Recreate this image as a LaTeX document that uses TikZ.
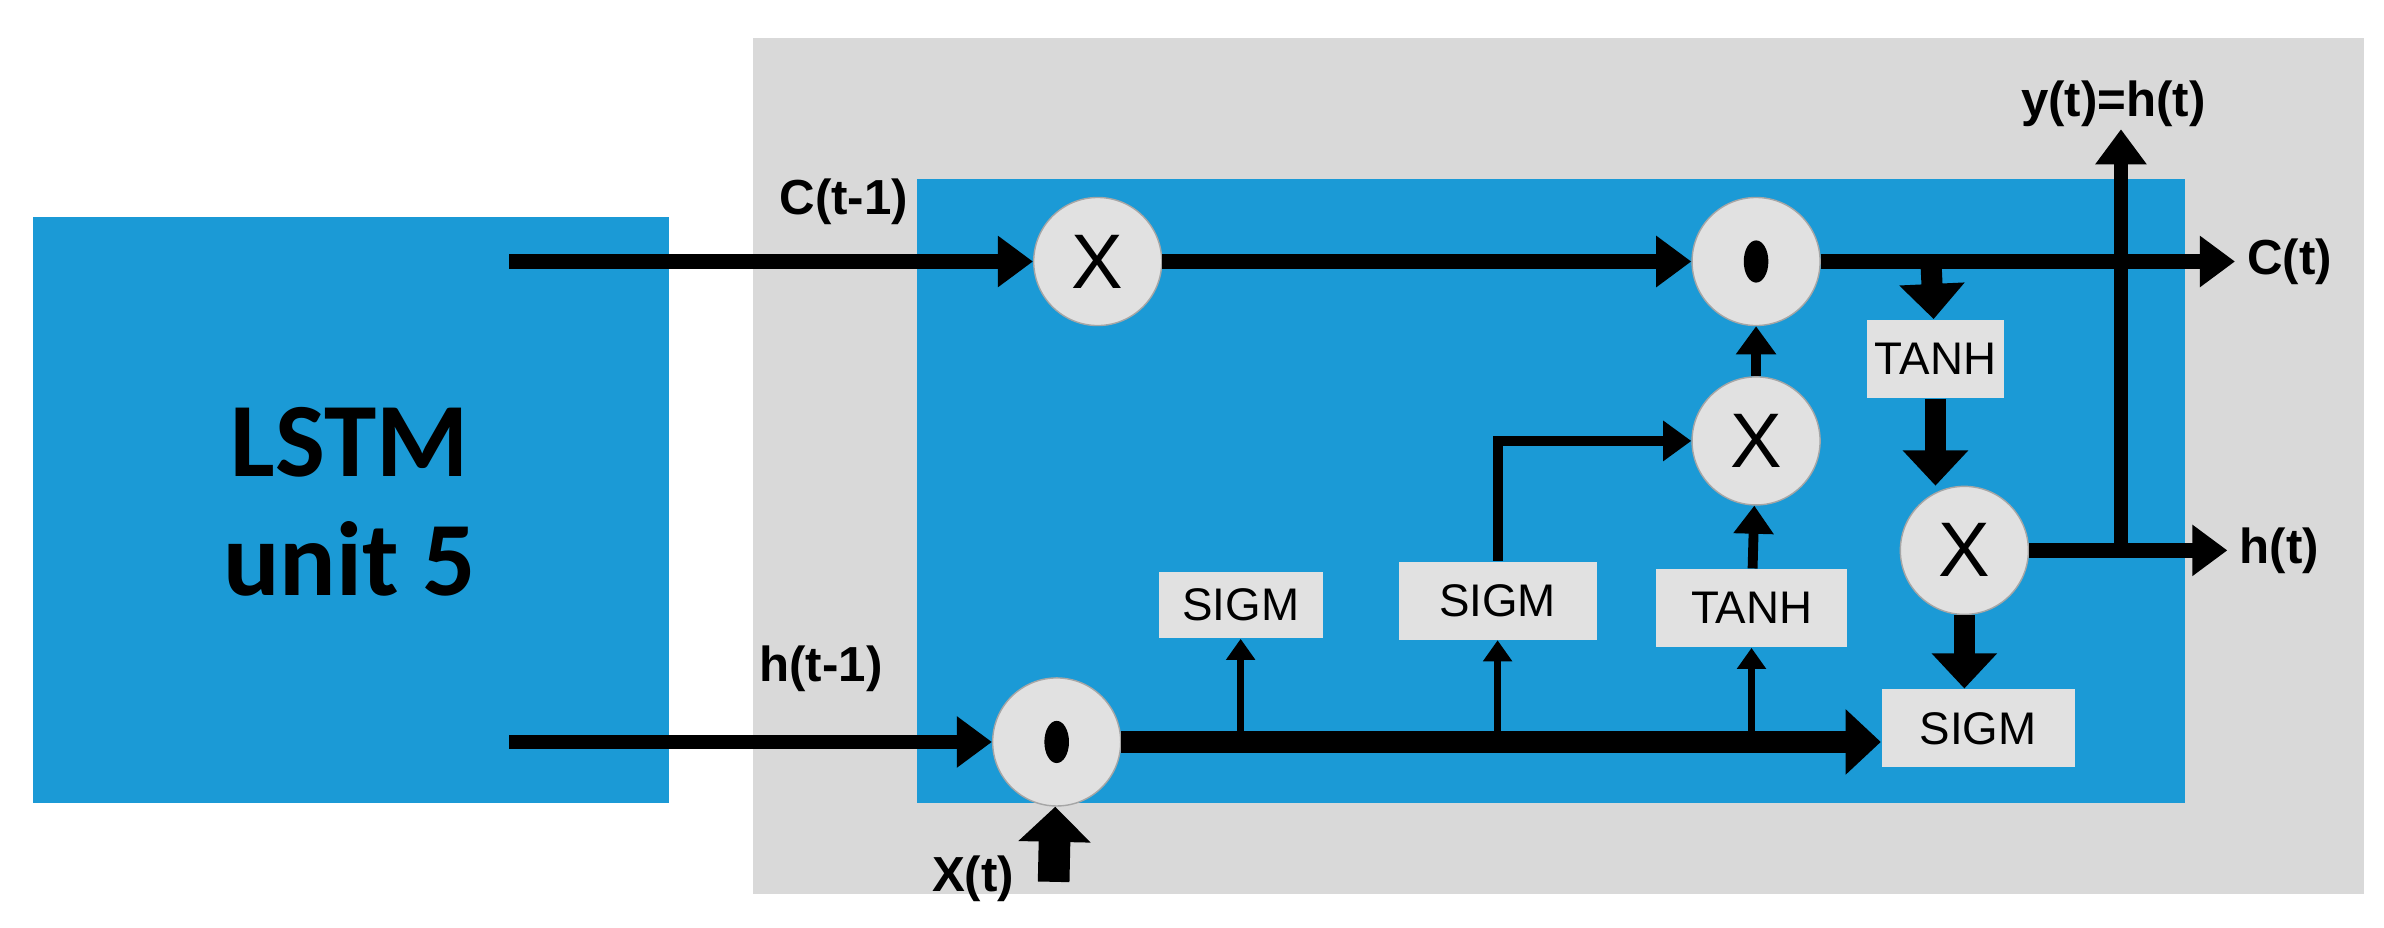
\documentclass[tikz,border=0pt]{standalone}
\usepackage{fontspec}
\setmainfont{Liberation Sans}
\newfontfamily\unitfont{Carlito}
\usetikzlibrary{arrows.meta,positioning}
\definecolor{cellblue}{RGB}{27,154,214}
\definecolor{cellgray}{RGB}{217,217,217}
\definecolor{opgray}{RGB}{225,225,225}
\tikzset{
  op/.style={circle, fill=opgray, draw=gray!70, minimum size=1.28cm, inner sep=0pt, font=\fontsize{22}{24}\selectfont},
  gate/.style={fill=opgray, minimum height=0.78cm, inner sep=0pt, font=\fontsize{13}{14}\selectfont},
  lbl/.style={font=\bfseries\fontsize{14}{15}\selectfont},
  flow/.style={line width=4.2pt, -{Triangle[length=10pt,width=14pt]}},
  mid flow/.style={line width=2.8pt, -{Triangle[length=8pt,width=11pt]}},
  thin flow/.style={line width=1.8pt, -{Triangle[length=6pt,width=8pt]}},
  fat flow/.style={line width=6pt, -{Triangle[length=10pt,width=18pt]}}
}
\begin{document}
\begin{tikzpicture}[x=0.0152cm, y=-0.0152cm]
\useasboundingbox (0,0) rectangle (1568,610);

%cell background
\fill[cellgray] (495,25) rectangle (1555,588);
\fill[cellblue] (603,118) rectangle (1437,528);
\fill[cellblue] (22,143) rectangle (440,528);
\node[font=\unitfont\bfseries\fontsize{30}{34}\selectfont, align=center] (unit) at (230,330) {LSTM\\unit 5};

%operations
\node[op] (forget) at (722,172) {X};
\node[op] (add) at (1155,172) {};
\fill[black] (add.center) ellipse (3.5pt and 6pt);
\node[op] (input) at (1155,290) {X};
\node[op] (output) at (1292,362) {X};
\node[op] (concat) at (695,488) {};
\fill[black] (concat.center) ellipse (3.5pt and 6pt);

%gates
\node[gate, minimum width=1.64cm, minimum height=0.66cm] (sigf) at (816,398) {SIGM};
\node[gate, minimum width=1.98cm] (sigi) at (985,395) {SIGM};
\node[gate, minimum width=1.9cm] (tanhi) at (1152,400) {TANH};
\node[gate, minimum width=1.37cm] (tanhc) at (1273,236) {TANH};
\node[gate, minimum width=1.93cm] (sigo) at (1301,479) {SIGM};

%free ends
\coordinate (cin) at (335,172);
\coordinate (hin) at (335,488);
\coordinate (cout) at (1470,172);
\coordinate (hout) at (1465,362);
\coordinate (yout) at (1395,85);
\coordinate (xin) at (693,580);

%labels
\node[lbl] at (555,133) {C(t-1)};
\node[lbl] at (540,440) {h(t-1)};
\node[lbl] at (640,578) {X(t)};
\node[lbl, right] at (cout) {C(t)};
\node[lbl, right] at (hout) {h(t)};
\node[lbl] at (1390,68) {y(t)=h(t)};

%cell state
\draw[flow] (cin) -- (forget);
\draw[flow] (forget) -- (add);
\draw[flow] (add) -- (cout);
\draw[fat flow] (1270,172) -- (tanhc);
\draw[fat flow] (tanhc.south) -- (output.north -| tanhc.south);
\draw[mid flow] (input) -- (add);
\draw[mid flow] (tanhi) -- (input);
\draw[mid flow] (sigi.north) |- (input);

%hidden state
\draw[flow] (hin) -- (concat);
\draw[fat flow] (concat) -- (sigo.west |- concat);
\draw[line width=9pt, -{Triangle[length=10pt,width=20pt]}] (xin) -- (concat);
\draw[thin flow] (sigf.south |- concat) -- (sigf);
\draw[thin flow] (sigi.south |- concat) -- (sigi);
\draw[thin flow] (tanhi.south |- concat) -- (tanhi);
\draw[fat flow] (output) -- (output |- sigo.north);
\draw[flow] (output) -- (hout);
\draw[flow] (output -| yout) -- (yout);
\end{tikzpicture}
\end{document}
